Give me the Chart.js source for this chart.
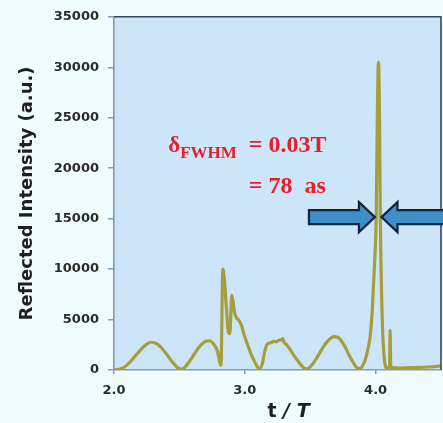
<!DOCTYPE html>
<html>
<head>
<meta charset="utf-8">
<script src="https://cdn.jsdelivr.net/npm/chart.js@4.4.0/dist/chart.umd.min.js"></script>
<style>
  html, body { margin: 0; padding: 0; background: #effbfd; }
  canvas { display: block; }
</style>
</head>
<body>
<canvas id="chart" width="443" height="423"></canvas>
<script>
// Reflected intensity versus time (in units of the optical period T)
const timeT = [
  2.00, 2.04, 2.08, 2.12, 2.16, 2.20, 2.24, 2.28, 2.32, 2.36, 2.40, 2.44, 2.48, 2.51,
  2.54, 2.58, 2.62, 2.66, 2.70, 2.73, 2.76, 2.79, 2.81, 2.818,
  2.832, 2.845, 2.86, 2.875, 2.886, 2.900, 2.910, 2.920, 2.935, 2.950, 2.965, 2.975,
  2.99, 3.01, 3.03, 3.05, 3.07, 3.09, 3.105, 3.12, 3.135, 3.15, 3.165, 3.18, 3.20,
  3.22, 3.24, 3.26, 3.28, 3.29, 3.30, 3.32, 3.34, 3.36, 3.38, 3.40, 3.42, 3.44, 3.46,
  3.48, 3.50, 3.53, 3.56, 3.60, 3.64, 3.68, 3.71, 3.74, 3.77, 3.80, 3.83, 3.86, 3.88,
  3.90, 3.92, 3.94, 3.96, 3.975, 3.99, 4.005, 4.014, 4.022, 4.030, 4.036, 4.045, 4.055,
  4.065, 4.075, 4.085, 4.10, 4.107, 4.111, 4.116, 4.13, 4.20, 4.30, 4.40, 4.50
];
const intensity = [
  0, 80, 300, 750, 1350, 1950, 2450, 2750, 2650, 2250, 1600, 900, 300, 80,
  250, 900, 1700, 2400, 2850, 2900, 2600, 1900, 700, 450,
  10000, 8800, 6000, 3700, 3600, 7400, 6800, 5800, 5200, 5000, 4700, 4400,
  3700, 2900, 2200, 1500, 950, 450, 150, 200, 700, 1700, 2400, 2650, 2700,
  2850, 2800, 2950, 3000, 3100, 2750, 2500, 2150, 1750, 1350, 1000, 650, 350, 150,
  120, 300, 800, 1400, 2300, 2950, 3300, 3250, 2850, 2200, 1400, 700, 200, 150,
  400, 1000, 2000, 3500, 6000, 10000, 15500, 26000, 30500, 25000, 15000, 8000, 3500,
  1300, 400, 200, 250, 300, 3900, 300, 250, 200, 250, 300, 400
];
const xTickValues = [2, 3, 4];
const yTickValues = [0, 5000, 10000, 15000, 20000, 25000, 30000, 35000];

// FWHM markers: half of the main peak, pointed at from both sides
const halfMaxLevel = 15250;
const fwhmLeftEdge = 3.995;
const fwhmRightEdge = 4.045;

const points = timeT.map((t, i) => ({ x: t, y: intensity[i] }));

const axisBlue = '#8399bb';
const tickText = '#2b2b2b';

const decorPlugin = {
  id: 'decor',
  beforeDraw(chart) {
    const { ctx, chartArea: a } = chart;
    ctx.save();
    ctx.fillStyle = '#cde5f8';
    ctx.fillRect(a.left, a.top, a.right - a.left, a.bottom - a.top);
    ctx.restore();
  },
  afterDatasetsDraw(chart) {
    const { ctx, chartArea: a, scales } = chart;
    const xs = scales.x, ys = scales.y;
    ctx.save();
    // dark frame on top and right
    ctx.strokeStyle = '#3b475a';
    ctx.lineWidth = 1.6;
    ctx.beginPath();
    ctx.moveTo(a.left, a.top);
    ctx.lineTo(a.right, a.top);
    ctx.lineTo(a.right, a.bottom);
    ctx.stroke();

    // block arrows marking the FWHM
    const yMid = ys.getPixelForValue(halfMaxLevel) + 1;
    const drawArrow = (tip, dir) => {
      const shaftHalf = 7, headHalf = 15, headLen = 16, shaftLen = 50;
      ctx.beginPath();
      ctx.moveTo(tip, yMid);
      ctx.lineTo(tip - dir * headLen, yMid - headHalf);
      ctx.lineTo(tip - dir * headLen, yMid - shaftHalf);
      ctx.lineTo(tip - dir * (headLen + shaftLen), yMid - shaftHalf);
      ctx.lineTo(tip - dir * (headLen + shaftLen), yMid + shaftHalf);
      ctx.lineTo(tip - dir * headLen, yMid + shaftHalf);
      ctx.lineTo(tip - dir * headLen, yMid + headHalf);
      ctx.closePath();
      ctx.fillStyle = '#3d8fc9';
      ctx.fill();
      ctx.lineJoin = 'miter';
      ctx.strokeStyle = '#14243a';
      ctx.lineWidth = 2.2;
      ctx.stroke();
    };
    drawArrow(xs.getPixelForValue(fwhmLeftEdge), 1);
    drawArrow(xs.getPixelForValue(fwhmRightEdge), -1);

    // FWHM annotation
    const x0 = xs.getPixelForValue(2.415);
    const y1 = ys.getPixelForValue(21600);
    const y2 = ys.getPixelForValue(17500);
    ctx.fillStyle = '#e5202a';
    ctx.textBaseline = 'alphabetic';
    ctx.textAlign = 'left';
    ctx.font = 'bold 23px "Liberation Serif", serif';
    ctx.fillText('\u03B4', x0, y1);
    const dW = ctx.measureText('\u03B4').width;
    ctx.font = 'bold 17px "Liberation Serif", serif';
    ctx.fillText('FWHM', x0 + dW, y1 + 6);
    const fW = ctx.measureText('FWHM').width;
    const eqX = x0 + dW + fW + 12;
    ctx.font = 'bold 24px "Liberation Serif", serif';
    ctx.fillText('= 0.03T', eqX, y1);
    ctx.fillText('= 78  as', eqX, y2);

    // x-axis title: t / T
    ctx.fillStyle = '#1f1f1f';
    const cx = (a.left + a.right) / 2 + 11;
    const by = 417;
    ctx.font = 'bold 19px "DejaVu Sans", sans-serif';
    const tPart = 't ';
    const tW = ctx.measureText(tPart).width;
    ctx.font = 'italic bold 19px "DejaVu Sans", sans-serif';
    const restPart = '/ T';
    const rW = ctx.measureText(restPart).width;
    const sx = cx - (tW + rW) / 2;
    ctx.font = 'bold 19px "DejaVu Sans", sans-serif';
    ctx.fillText(tPart, sx, by);
    ctx.font = 'italic bold 19px "DejaVu Sans", sans-serif';
    ctx.fillText(restPart, sx + tW, by);
    ctx.restore();
  }
};

new Chart(document.getElementById('chart'), {
  type: 'line',
  data: {
    datasets: [{
      data: points,
      borderColor: '#a69d3d',
      borderWidth: 3.2,
      pointRadius: 0,
      fill: false,
      cubicInterpolationMode: 'monotone'
    }]
  },
  options: {
    responsive: false,
    animation: false,
    layout: { padding: { left: 0, right: 2, top: 16, bottom: 0 } },
    plugins: { legend: { display: false }, tooltip: { enabled: false } },
    scales: {
      x: {
        type: 'linear',
        min: 2,
        max: 4.5,
        afterBuildTicks(scale) { scale.ticks = xTickValues.map(v => ({ value: v })); },
        afterFit(scale) { scale.height = 53; },
        ticks: {
          color: tickText,
          font: { family: 'DejaVu Sans', weight: 'bold', size: 13 },
          padding: 9,
          maxRotation: 0,
          callback: v => Number(v).toFixed(1)
        },
        grid: { drawOnChartArea: false, drawTicks: true, tickLength: 4, color: axisBlue, lineWidth: 1.5 },
        border: { display: true, color: axisBlue, width: 1.6 }
      },
      y: {
        type: 'linear',
        min: 0,
        max: 35000,
        afterBuildTicks(scale) { scale.ticks = yTickValues.map(v => ({ value: v })); },
        afterFit(scale) { scale.width = 114; },
        ticks: {
          color: tickText,
          font: { family: 'DejaVu Sans', weight: 'bold', size: 13 },
          padding: 9,
          callback: v => String(v)
        },
        grid: { drawOnChartArea: false, drawTicks: true, tickLength: 6, color: axisBlue, lineWidth: 1.5 },
        border: { display: true, color: axisBlue, width: 1.6 },
        title: {
          display: true,
          text: 'Reflected Intensity (a.u.)',
          color: '#1f1f1f',
          font: { family: 'DejaVu Sans', weight: 'bold', size: 18 },
          padding: { top: 17, bottom: 0 }
        }
      }
    }
  },
  plugins: [decorPlugin]
});
</script>
</body>
</html>
